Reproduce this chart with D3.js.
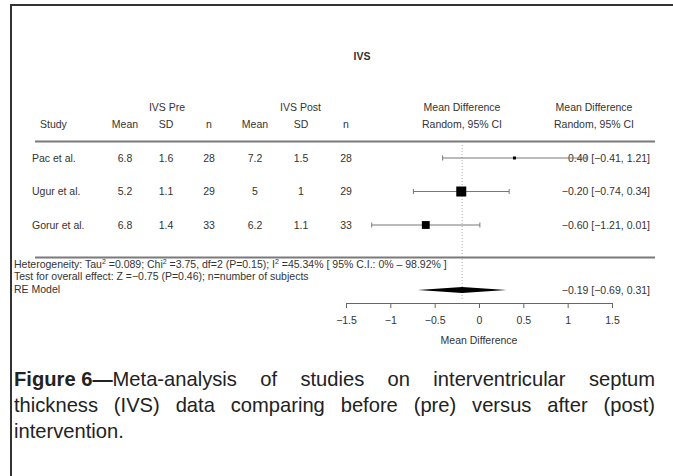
<!DOCTYPE html>
<html>
<head>
<meta charset="utf-8">
<script src="https://cdn.jsdelivr.net/npm/d3@7"></script>
<style>
  html, body { margin: 0; padding: 0; background: #fff; }
  svg { display: block; }
  .tbl { font-family: "Liberation Sans", Arial, Helvetica, sans-serif; font-size: 10.5px; fill: #333; }
  .note { font-family: "Liberation Sans", Arial, Helvetica, sans-serif; font-size: 10.5px; fill: #333; }
  .cap { font-family: "Liberation Sans", Arial, sans-serif; font-size: 21px; fill: #222; }
</style>
</head>
<body>
<script>
// Study-level data for the IVS meta-analysis
const studies   = ["Pac et al.", "Ugur et al.", "Gorur et al."];
const preMean   = [6.8, 5.2, 6.8];
const preSD     = [1.6, 1.1, 1.4];
const preN      = [28, 29, 33];
const postMean  = [7.2, 5, 6.2];
const postSD    = [1.5, 1, 1.1];
const postN     = [28, 29, 33];
const md        = [0.40, -0.20, -0.60];
const ciLow     = [-0.41, -0.74, -1.21];
const ciHigh    = [1.21, 0.34, 0.01];

// Random-effects summary
const reEst = -0.19, reLow = -0.69, reHigh = 0.31;
const tau2 = 0.089;

const axisTicks = [-1.5, -1, -0.5, 0, 0.5, 1, 1.5];

const W = 673, H = 476;
const svg = d3.select("body").append("svg").attr("width", W).attr("height", H);

// frame (left and top rules)
svg.append("line").attr("x1", 11).attr("x2", 11).attr("y1", 4).attr("y2", H)
  .attr("stroke", "#333").attr("stroke-width", 2);
svg.append("line").attr("x1", 10).attr("x2", W).attr("y1", 5).attr("y2", 5)
  .attr("stroke", "#333").attr("stroke-width", 2);

const fmtMinus = s => s.replace(/-/g, "\u2212");
const f2 = d3.format(".2f");

const x = d3.scaleLinear().domain([-1.5, 1.5]).range([346, 612]);

// row positions
const rowY = d3.scalePoint().domain(studies).range([158, 225]);

// title
svg.append("text").attr("x", 362).attr("y", 60).attr("text-anchor", "middle")
  .attr("class", "tbl").style("font-weight", "bold").text("IVS");

// column headers
const cols = { study: 32, m1: 125, s1: 166, n1: 209, m2: 255, s2: 301, n2: 346, ci: 462, txt: 594 };
const hdr1 = 111, hdr2 = 128;
const head = svg.append("g").attr("class", "tbl").attr("text-anchor", "middle");
head.append("text").attr("x", (cols.m1 + cols.n1) / 2).attr("y", hdr1).text("IVS Pre");
head.append("text").attr("x", (cols.m2 + cols.n2) / 2).attr("y", hdr1).text("IVS Post");
head.append("text").attr("x", cols.ci).attr("y", hdr1).text("Mean Difference");
head.append("text").attr("x", cols.txt).attr("y", hdr1).text("Mean Difference");
head.append("text").attr("x", 40).attr("y", hdr2).attr("text-anchor", "start").text("Study");
[["m1","Mean"],["s1","SD"],["n1","n"],["m2","Mean"],["s2","SD"],["n2","n"]].forEach(([k, t]) =>
  head.append("text").attr("x", cols[k]).attr("y", hdr2).text(t));
head.append("text").attr("x", cols.ci).attr("y", hdr2).text("Random, 95% CI");
head.append("text").attr("x", cols.txt).attr("y", hdr2).text("Random, 95% CI");

// horizontal rules
svg.append("line").attr("x1", 35).attr("x2", 655).attr("y1", 141.5).attr("y2", 141.5)
  .attr("stroke", "#7a7a7a").attr("stroke-width", 2);
svg.append("line").attr("x1", 35).attr("x2", 655).attr("y1", 257.5).attr("y2", 257.5)
  .attr("stroke", "#7a7a7a").attr("stroke-width", 2);

// reference line at the pooled estimate
svg.append("line").attr("x1", x(reEst)).attr("x2", x(reEst)).attr("y1", 142).attr("y2", 300)
  .attr("stroke", "#aaa").attr("stroke-width", 1).attr("stroke-dasharray", "1,2");

// table rows
const rows = svg.append("g").attr("class", "tbl");
studies.forEach((s, i) => {
  const y = rowY(s) + 3.5;
  rows.append("text").attr("x", cols.study).attr("y", y).text(s);
  const vals = [["m1", preMean[i]], ["s1", preSD[i]], ["n1", preN[i]],
                ["m2", postMean[i]], ["s2", postSD[i]], ["n2", postN[i]]];
  vals.forEach(([k, v]) => rows.append("text").attr("x", cols[k]).attr("y", y)
    .attr("text-anchor", "middle").text(v));
});

// random-effects weights -> marker sizes
const se = studies.map((_, i) => (ciHigh[i] - ciLow[i]) / (2 * 1.96));
const w = se.map(s => 1 / (s * s + tau2));
const size = d3.scaleLinear().domain(d3.extent(w)).range([3, 10]);

// confidence intervals, point estimates and their labels
const ci = svg.append("g");
studies.forEach((s, i) => {
  const y = rowY(s);
  ci.append("line").attr("x1", x(ciLow[i])).attr("x2", x(ciHigh[i])).attr("y1", y).attr("y2", y)
    .attr("stroke", "#777").attr("stroke-width", 1);
  [ciLow[i], ciHigh[i]].forEach(v => ci.append("line").attr("x1", x(v)).attr("x2", x(v))
    .attr("y1", y - 2.5).attr("y2", y + 2.5).attr("stroke", "#777").attr("stroke-width", 1));
  const sz = size(w[i]);
  ci.append("rect").attr("x", x(md[i]) - sz / 2).attr("y", y - sz / 2)
    .attr("width", sz).attr("height", sz).attr("fill", "#000");
  rows.append("text").attr("x", 650).attr("y", y + 3.5).attr("text-anchor", "end")
    .text(fmtMinus(`${f2(md[i])} [${f2(ciLow[i])}, ${f2(ciHigh[i])}]`));
});

// heterogeneity / overall effect notes
const notes = svg.append("g").attr("class", "note");
const het = notes.append("text").attr("x", 14).attr("y", 268);
const sup = t => { het.append("tspan").attr("dy", -4).style("font-size", "7px").text(t); };
het.append("tspan").text(" Heterogeneity: Tau");
sup("2");
het.append("tspan").attr("dy", 4).text(" =0.089; Chi");
sup("2");
het.append("tspan").attr("dy", 4).text(" =3.75, df=2 (P=0.15); I");
sup("2");
het.append("tspan").attr("dy", 4).text(" =45.34% [ 95% C.I.: 0% \u2013 98.92% ]");
notes.append("text").attr("x", 14).attr("y", 280)
  .text("Test for overall effect: Z =\u22120.75 (P=0.46); n=number of subjects");
notes.append("text").attr("x", 14).attr("y", 293).text("RE Model");

// pooled diamond
const dy = 290;
svg.append("polygon")
  .attr("points", [[x(reLow), dy], [x(reEst), dy - 3], [x(reHigh), dy], [x(reEst), dy + 3]].join(" "))
  .attr("fill", "#000");
rows.append("text").attr("x", 650).attr("y", dy + 3.5).attr("text-anchor", "end")
  .text(fmtMinus(`${f2(reEst)} [${f2(reLow)}, ${f2(reHigh)}]`));

// x axis
const ax = svg.append("g").attr("transform", "translate(0,303)")
  .call(d3.axisBottom(x).tickValues(axisTicks).tickSize(5).tickPadding(9)
    .tickFormat(d => fmtMinus(d3.format("")(d))));
ax.select(".domain").attr("stroke", "#666");
ax.selectAll(".tick line").attr("stroke", "#666");
ax.selectAll(".tick text").attr("class", "tbl").attr("fill", "#333").style("font-size", "10.5px");
svg.append("text").attr("class", "tbl").attr("x", x(0)).attr("y", 344)
  .attr("text-anchor", "middle").text("Mean Difference");

// caption: slightly condensed, lines 1-2 justified to the text block width
const capLines = [
  [["Figure 6\u2014", true], ["Meta-analysis of studies on interventricular septum", false]],
  [["thickness (IVS) data comparing before (pre) versus after (post)", false]],
  [["intervention.", false]]
];
const capY = [386, 412, 438];
const squeeze = 0.96, blockW = 641 / squeeze;
capLines.forEach((parts, i) => {
  const t = svg.append("text").attr("class", "cap")
    .attr("transform", `translate(14,${capY[i]}) scale(${squeeze},1)`);
  const spans = parts.map(([s, b]) => t.append("tspan").style("font-weight", b ? "bold" : "normal").text(s));
  if (i < 2) {
    const natural = t.node().getComputedTextLength();
    const body = spans[spans.length - 1];
    const spaces = parts[parts.length - 1][0].split(" ").length - 1;
    body.style("word-spacing", ((blockW - natural) / spaces) + "px");
  }
});
</script>
</body>
</html>
